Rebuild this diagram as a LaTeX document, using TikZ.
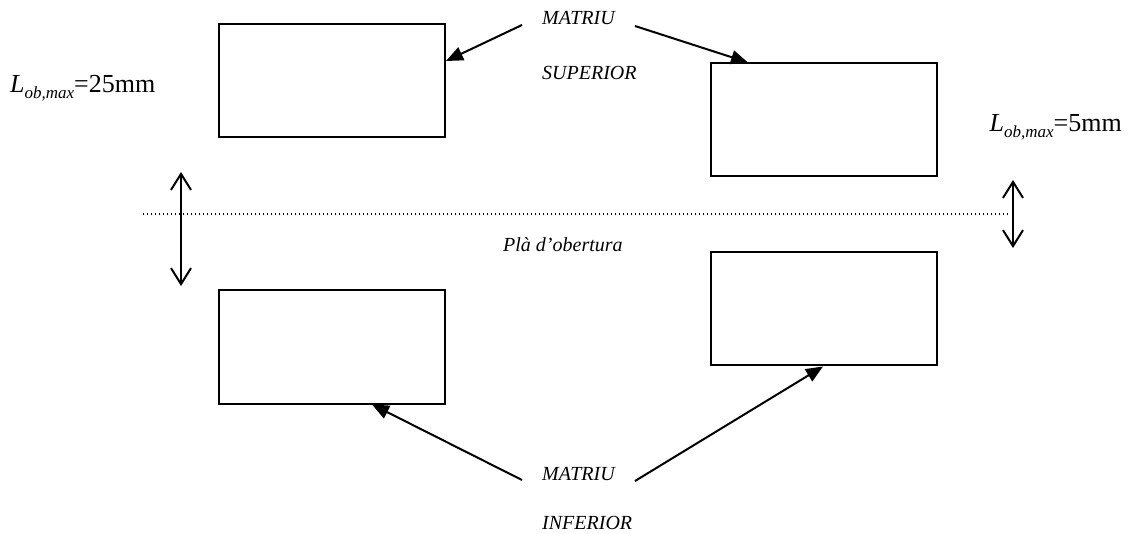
\documentclass[tikz,border=0pt]{standalone}
\usepackage{fontspec}
\setmainfont{Liberation Serif}
\usetikzlibrary{arrows.meta}

\newcommand{\lobmax}[1]{\fontsize{26}{26}\selectfont\textit{L}\raisebox{-0.22em}{\fontsize{17}{17}\selectfont\itshape ob,max}=#1mm}

\begin{document}
\begin{tikzpicture}[x=1pt,y=-1pt,
  die/.style={draw,line width=2pt,minimum width=226pt,minimum height=113pt,inner sep=0pt},
  lbl/.style={inner sep=0pt,anchor=base west,font=\fontsize{20}{20}\selectfont\itshape},
  ptr/.style={line width=2pt,-{Triangle[length=17pt,width=14pt]}},
  gap/.style={line width=2pt,{Straight Barb[length=16pt,width=20pt]}-{Straight Barb[length=16pt,width=20pt]}},
  plane/.style={line width=1.4pt,dash pattern=on 1.4pt off 2.6pt}]
\useasboundingbox (0,0) rectangle (1132,534);

% dies
\node[die] (tl) at (332,81) {};
\node[die] (tr) at (824,120) {};
\node[die] (bl) at (332,347) {};
\node[die] (br) at (824,309) {};

% parting plane
\coordinate (p0) at (143,214);
\coordinate (p1) at (1010,214);
\draw[plane] (p0) -- (p1);
\node[lbl] (pla) at (503,252) {Plà d’obertura};

% opening strokes
\coordinate (a0) at (181,172);
\coordinate (a1) at (181,286);
\draw[gap] (a0) -- (a1);
\coordinate (b0) at (1013,180);
\coordinate (b1) at (1013,248);
\draw[gap] (b0) -- (b1);

\node[inner sep=0pt,anchor=base west] (l25) at (10,93) {\lobmax{25}};
\node[inner sep=0pt,anchor=base east] (l5) at (1122,132) {\lobmax{5}};

% labels of the upper and lower dies
\node[lbl] (mu) at (542,25) {MATRIU};
\node[lbl] (sup) at (542,80) {SUPERIOR};
\node[lbl] (ml) at (542,480) {MATRIU};
\node[lbl] (inf) at (542,529) {INFERIOR};

\coordinate (su1) at (522,25);
\coordinate (su2) at (635,26);
\coordinate (in1) at (522,480);
\coordinate (in2) at (635,481);
\draw[ptr] (su1) -- ([yshift=20pt]tl.east);
\draw[ptr] (su2) -- ([xshift=-76pt]tr.north);
\draw[ptr] (in1) -- ([xshift=40pt]bl.south);
\draw[ptr] (in2) -- ([xshift=-1pt]br.south);
\end{tikzpicture}
\end{document}
